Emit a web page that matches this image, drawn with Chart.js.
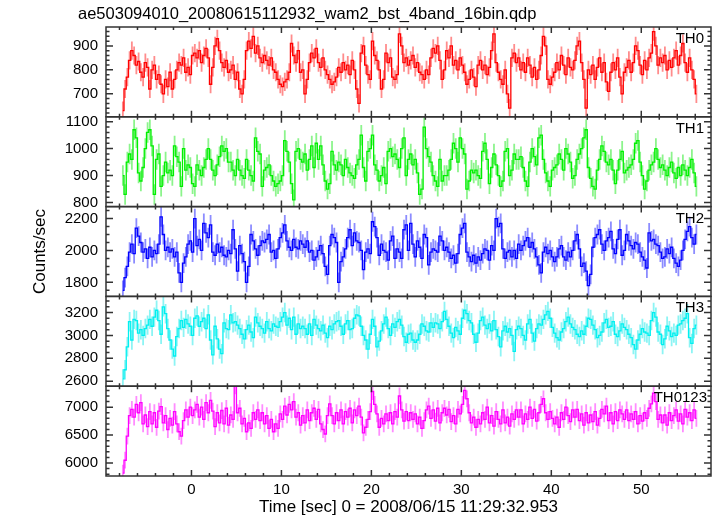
<!DOCTYPE html>
<html>
<head>
<meta charset="utf-8">
<script src="https://cdn.jsdelivr.net/npm/chart.js@4.4.1/dist/chart.umd.min.js"></script>
<style>
  body { margin: 0; background: #fff; }
  #wrap { width: 717px; height: 516px; }
</style>
</head>
<body>
<div id="wrap"><canvas id="lc" width="717" height="516"></canvas></div>
<script>
// 0.25 s bins, first bin centred at -7.625 s
const binStart = -7.625;
const binWidth = 0.25;

// TH0 counts/sec, 16 bins per row (4 s)
const th0 = [
    630, 720, 770, 840, 880, 860, 820, 835, 790, 770, 830, 810, 720, 800, 820, 760,
    780, 740, 700, 760, 730, 790, 720, 760, 800, 830, 820, 850, 790, 810, 780, 860,
    870, 850, 880, 830, 860, 890, 850, 740, 810, 900, 930, 880, 830, 810, 840, 790,
    800, 820, 760, 790, 720, 700, 760, 880, 920, 890, 940, 870, 900, 850, 830, 860,
    840, 820, 850, 800, 790, 760, 740, 730, 750, 760, 790, 910, 860, 830, 880, 790,
    800, 700, 760, 830, 870, 850, 890, 830, 810, 850, 800, 780, 760, 740, 750, 770,
    810, 790, 830, 800, 820, 780, 840, 800, 720, 660, 870, 900, 820, 780, 760, 920,
    860, 840, 800, 720, 760, 870, 830, 850, 770, 760, 780, 950, 900, 830, 850, 820,
    840, 860, 810, 830, 790, 780, 760, 800, 780, 850, 890, 870, 900, 840, 760, 800,
    880, 850, 900, 820, 840, 800, 850, 820, 790, 740, 760, 800, 770, 730, 820, 840,
    800, 820, 780, 810, 880, 950, 830, 790, 760, 740, 800, 700, 640, 850, 870, 830,
    850, 800, 830, 790, 850, 820, 770, 810, 760, 800, 860, 940, 900, 760, 740, 770,
    790, 830, 800, 860, 820, 780, 850, 810, 800, 840, 900, 920, 830, 760, 640, 800,
    780, 820, 760, 810, 850, 790, 830, 750, 710, 790, 830, 800, 850, 770, 700, 790,
    810, 840, 790, 830, 900, 880, 820, 780, 840, 800, 850, 870, 960, 900, 820, 850,
    830, 860, 800, 840, 810, 850, 880, 820, 860, 910, 830, 790, 850, 800, 760, 700
];

const th1 = [
    900, 830, 950, 980, 960, 1070, 1040, 910, 880, 930, 1000, 1060, 1070, 1010, 830, 960,
    980, 860, 900, 950, 910, 920, 900, 1010, 970, 950, 860, 1000, 920, 940, 930, 870,
    860, 940, 920, 900, 930, 960, 1000, 960, 920, 900, 940, 970, 1010, 990, 1000, 950,
    950, 920, 900, 960, 920, 900, 890, 960, 920, 900, 880, 1040, 990, 980, 860, 920,
    930, 940, 900, 880, 860, 870, 880, 900, 1030, 990, 950, 870, 810, 990, 1000, 960,
    950, 980, 920, 960, 1010, 930, 1020, 960, 1010, 940, 880, 850, 870, 990, 940, 920,
    950, 940, 900, 960, 930, 910, 900, 890, 940, 960, 1050, 930, 880, 990, 1000, 1050,
    940, 920, 880, 900, 930, 870, 990, 1000, 970, 980, 960, 930, 1000, 1040, 900, 960,
    980, 940, 960, 910, 830, 850, 1080, 1000, 970, 950, 900, 880, 860, 960, 880, 900,
    900, 920, 960, 1020, 1000, 950, 1040, 1000, 980, 850, 880, 920, 910, 920, 900, 890,
    990, 1020, 960, 870, 930, 980, 940, 900, 860, 880, 990, 1000, 900, 920, 980, 960,
    960, 970, 930, 880, 860, 950, 1000, 970, 940, 1040, 1050, 960, 910, 880, 860, 920,
    930, 940, 980, 960, 920, 1000, 980, 950, 890, 900, 960, 980, 1000, 1040, 1070, 930,
    890, 860, 850, 920, 960, 1010, 990, 950, 940, 960, 920, 870, 920, 960, 990, 910,
    920, 930, 940, 960, 1020, 1030, 950, 900, 850, 880, 920, 940, 950, 1000, 960, 930,
    940, 920, 900, 930, 950, 910, 890, 930, 900, 940, 920, 900, 930, 960, 910, 860
];

const th2 = [
    1750, 1830, 1900, 1990, 2040, 1980, 2140, 2090, 2050, 1990, 2010, 1950, 2020, 1960, 2000, 1980,
    2040, 2210, 2100, 2000, 2020, 1990, 2010, 1960, 1990, 1860, 1800, 1920, 1960, 2040, 2060, 1990,
    2200, 2030, 2070, 2000, 2170, 2110, 2080, 2160, 1990, 1970, 2040, 1990, 2020, 1970, 1960, 2000,
    1980, 2130, 2010, 1870, 2030, 1980, 1930, 1800, 1900, 2100, 2060, 2010, 1970, 2030, 2060, 2050,
    2070, 2100, 1990, 2000, 1950, 2010, 2080, 2110, 2160, 2060, 2020, 2000, 2070, 2020, 2010, 2060,
    2040, 2020, 2060, 1990, 2000, 1940, 1960, 2000, 2030, 1980, 1900, 1850, 2030, 2100, 2080, 2050,
    1800, 1930, 1960, 2010, 2080, 2130, 2030, 2110, 2060, 2050, 2000, 1880, 1990, 2010, 1980, 2180,
    2150, 2080, 1970, 2040, 2000, 1990, 1940, 2060, 2090, 1950, 2010, 1990, 1950, 2130, 2160, 2000,
    2170, 2040, 1960, 2060, 2020, 1950, 2100, 2080, 1910, 1990, 2010, 2000, 1990, 2090, 2060, 2000,
    2020, 1990, 1950, 1970, 1920, 1980, 2100, 2140, 2170, 1990, 1960, 1930, 1970, 1920, 1960, 1940,
    1980, 2010, 2000, 1940, 2030, 2000, 2200, 2150, 2170, 2010, 1950, 1990, 2000, 1960, 2000, 1950,
    2040, 2000, 2030, 2060, 2080, 2020, 2050, 2010, 1960, 1910, 1860, 1990, 2020, 1980, 2000, 1960,
    1930, 1960, 2010, 2030, 1960, 1940, 1990, 1960, 2000, 2060, 2100, 2010, 1900, 1920, 1870, 1780,
    1850, 2020, 2080, 2100, 2130, 2040, 2000, 2060, 2080, 2120, 2010, 1980, 2070, 2130, 1970, 2000,
    2100, 2060, 2030, 2010, 2050, 2040, 1990, 1960, 1940, 1890, 2110, 2060, 2070, 2040, 2030, 1990,
    1950, 1960, 2010, 1980, 2020, 1950, 1920, 1900, 1940, 2000, 2070, 2120, 2150, 2080, 2040, 2100
];

const th3 = [
    2620, 2700, 2900, 3120, 2960, 3140, 3130, 3020, 3050, 3000, 3060, 3090, 3140, 3080, 3160, 3220,
    3130, 3010, 3250, 3190, 3060, 2960, 2880, 2820, 2990, 3060, 3130, 3070, 3140, 3100, 3080, 3000,
    3150, 3170, 3080, 3120, 3150, 3060, 3180, 2960, 2830, 3080, 2970, 2880, 2840, 3110, 3060, 3050,
    3180, 3110, 3120, 3090, 3060, 3010, 2970, 3050, 3090, 3030, 2980, 3160, 3110, 3080, 3060, 3020,
    3120, 3060, 3040, 3100, 3080, 3070, 3120, 3160, 3200, 3090, 3150, 3050, 3160, 3010, 3100, 3060,
    3080, 3060, 3010, 3100, 3000, 3140, 3090, 3060, 3040, 3090, 3020, 2980, 3080, 3050, 3100, 3120,
    3130, 3080, 3010, 3100, 3130, 3050, 3060, 3150, 3180, 3170, 3080, 3000, 2960, 2880, 3010, 3140,
    3080, 2900, 2950, 3040, 3100, 3160, 3060, 3000, 3100, 3070, 3120, 3140, 3090, 2990, 2940, 3010,
    3020, 2960, 2940, 2960, 3010, 3100, 3080, 3040, 3030, 3110, 3070, 3110, 3100, 3060, 3120, 3210,
    3140, 3080, 3020, 2980, 3070, 3040, 3010, 3150, 3220, 3190, 3130, 3110, 3010, 2940, 3020, 3130,
    3160, 3090, 3060, 3100, 3040, 3130, 3050, 2990, 2900, 3040, 3080, 3030, 3060, 3000, 2860, 3050,
    3080, 3060, 3000, 2960, 3100, 3140, 3020, 2950, 3060, 3100, 3090, 3140, 3180, 3210, 3150, 3070,
    3020, 2980, 2960, 3030, 3060, 3120, 3160, 3100, 3070, 3050, 3010, 2990, 3040, 3010, 3080, 3150,
    3140, 3090, 3050, 2980, 3000, 3030, 3110, 3140, 3070, 3080, 3120, 3010, 2990, 3040, 3100, 3070,
    3050, 3010, 2980, 2920, 2880, 2960, 3010, 3060, 3030, 3020, 3000, 3130, 3200, 3160, 3030, 3010,
    2920, 2970, 3080, 3040, 2990, 3020, 3000, 3090, 3100, 3130, 3150, 3190, 2980, 2930, 3060, 3090
];

const th0123 = [
    5820, 6050, 6480, 6850, 6960, 6820, 7050, 6900, 7080, 6700, 6860, 6650, 6920, 6700, 6900, 6640,
    6930, 7010, 6720, 6850, 6600, 6800, 6680, 6920, 6700, 6560, 6480, 6760, 6950, 6820, 7000, 6850,
    6950, 7050, 6820, 7000, 6780, 7080, 6900, 7120, 6930, 6650, 6900, 6720, 6940, 6700, 6980, 6680,
    6860, 6780, 7380, 6900, 6980, 6700, 6800, 6560, 6720, 6620, 6900, 6780, 6950, 6760, 6900, 6700,
    6850, 6620, 6780, 6560, 6700, 6620, 6880, 6780, 7020, 6860, 7050, 6950, 7100, 6820, 6900, 6680,
    6850, 6720, 6950, 6760, 6900, 6980, 6780, 6960, 6700, 6600, 6520, 6850, 7060, 6850, 6700, 6900,
    6760, 6950, 6700, 6920, 6820, 6980, 6720, 6950, 6850, 7020, 6820, 6540, 6640, 6780, 6920, 7280,
    7050, 6880, 6640, 6800, 6700, 6880, 6760, 6900, 6700, 6920, 6820, 7200, 6950, 6750, 6920, 6760,
    6900, 6780, 6880, 6700, 6820, 6620, 6760, 6950, 7020, 6800, 6950, 6750, 6980, 6720, 6900, 6980,
    6860, 6960, 6740, 6850, 6700, 6960, 6880, 7050, 7300, 7150, 6900, 6720, 6820, 6640, 6780, 6700,
    6900, 6780, 7000, 6720, 6850, 6660, 6920, 6780, 6700, 6950, 6720, 6820, 6660, 6880, 6780, 6950,
    6820, 6950, 6700, 6880, 6780, 7000, 6800, 6960, 6750, 6900, 7050, 7150, 6900, 6780, 6920, 6800,
    6700, 6820, 6640, 6900, 6780, 7000, 6850, 6740, 6950, 6820, 6960, 6760, 6880, 6680, 6900, 6720,
    6860, 6740, 6920, 6680, 6800, 6960, 6880, 7020, 6760, 6900, 6700, 6920, 6760, 6950, 6880, 6780,
    6950, 6760, 6880, 6780, 6920, 6700, 6850, 6750, 6900, 6800, 6980, 7060, 7250, 7100, 6780, 6860,
    6720, 6860, 6680, 6900, 6760, 6850, 6950, 6750, 6880, 6700, 6960, 6820, 6900, 6760, 6950, 6800
];

const panelNames = ['TH0', 'TH1', 'TH2', 'TH3', 'TH0123'];
const panelErrors = [38, 38, 62, 85, 150];
const panelMin = [604, 785, 1712, 2556, 5768];
const panelMax = [979, 1118, 2275, 3341, 7375];
const panelTicks = [
    [700, 800, 900],
    [800, 900, 1000, 1100],
    [1800, 2000, 2200],
    [2600, 2800, 3000, 3200],
    [6000, 6500, 7000]
];
const panelMinorStep = [20, 20, 50, 50, 100];
const xMin = -9.5;
const xMax = 57.75;
const xTicks = [0, 10, 20, 30, 40, 50];
const xMinorStep = 2;

const titleText = 'ae503094010_20080615112932_wam2_bst_4band_16bin.qdp';
const xLabel = 'Time [sec] 0 = 2008/06/15 11:29:32.953';
const yLabel = 'Counts/sec';

const series = [th0, th1, th2, th3, th0123];
const times = th0.map((v, i) => binStart + i * binWidth);

const lineColors = ['#ff0000', '#00f000', '#0000ff', '#00f0f0', '#ff00ff'];
const barColors = ['rgba(255,0,0,0.45)', 'rgba(0,230,0,0.45)', 'rgba(0,0,255,0.45)',
                   'rgba(0,230,230,0.45)', 'rgba(255,0,255,0.45)'];
const fontFamily = "'Liberation Sans', Arial, Helvetica, sans-serif";

Chart.defaults.font.family = fontFamily;
Chart.defaults.color = '#000';

// Scales: one shared x, five y axes stacked into panels
const scales = {
    x: {
        type: 'linear',
        position: 'bottom',
        min: xMin,
        max: xMax,
        grid: { display: false, drawTicks: false },
        border: { display: false },
        afterBuildTicks: s => { s.ticks = xTicks.map(v => ({ value: v })); },
        afterFit: s => { s.height = 40; },
        ticks: { autoSkip: false, maxRotation: 0, padding: 5, font: { size: 15 }, callback: v => String(v) },
        title: { display: true, text: xLabel, font: { size: 17, lineHeight: 1 }, padding: { top: 0, bottom: 0 } }
    }
};
panelNames.forEach((name, i) => {
    scales['y' + i] = {
        type: 'linear',
        position: 'left',
        stack: 'panels',
        stackWeight: 1,
        weight: panelNames.length - i,
        min: panelMin[i],
        max: panelMax[i],
        grid: { display: false, drawTicks: false },
        border: { display: false },
        afterBuildTicks: s => { s.ticks = panelTicks[i].map(v => ({ value: v })); },
        afterFit: s => { s.width = 106; },
        ticks: { autoSkip: false, padding: 8, font: { size: 15 }, callback: v => String(v) },
        title: { display: i === 2, text: yLabel, font: { size: 17 }, padding: { top: 30, bottom: 0 } }
    };
});

// Error bars, panel frames, inward ticks and labels
const qdpPlugin = {
    id: 'qdp',
    beforeDatasetDraw(chart, args) {
        const i = args.index;
        const ctx = chart.ctx;
        const area = chart.chartArea;
        const xs = chart.scales.x;
        const ys = chart.scales['y' + i];
        ctx.save();
        ctx.beginPath();
        ctx.rect(area.left, ys.top, area.right - area.left, ys.bottom - ys.top);
        ctx.clip();
        ctx.strokeStyle = barColors[i];
        ctx.lineWidth = 1.8;
        ctx.beginPath();
        series[i].forEach((v, k) => {
            const px = xs.getPixelForValue(times[k]);
            ctx.moveTo(px, ys.getPixelForValue(v + panelErrors[i]));
            ctx.lineTo(px, ys.getPixelForValue(v - panelErrors[i]));
        });
        ctx.stroke();
    },
    afterDatasetDraw(chart) {
        chart.ctx.restore();
    },
    afterDraw(chart) {
        const ctx = chart.ctx;
        const area = chart.chartArea;
        const xs = chart.scales.x;
        ctx.save();
        ctx.strokeStyle = '#333';
        ctx.lineWidth = 1.5;
        panelNames.forEach((name, i) => {
            const ys = chart.scales['y' + i];
            const top = ys.top;
            const bot = ys.bottom;
            ctx.strokeRect(area.left, top, area.right - area.left, bot - top);
            ctx.beginPath();
            for (let v = Math.ceil(xMin / xMinorStep) * xMinorStep; v <= xMax; v += xMinorStep) {
                const px = xs.getPixelForValue(v);
                const len = xTicks.includes(v) ? 6 : 3;
                ctx.moveTo(px, top); ctx.lineTo(px, top + len);
                ctx.moveTo(px, bot); ctx.lineTo(px, bot - len);
            }
            const step = panelMinorStep[i];
            for (let v = Math.ceil(panelMin[i] / step) * step; v <= panelMax[i]; v += step) {
                const py = ys.getPixelForValue(v);
                const len = panelTicks[i].includes(v) ? 7 : 3.5;
                ctx.moveTo(area.left, py); ctx.lineTo(area.left + len, py);
                ctx.moveTo(area.right, py); ctx.lineTo(area.right - len, py);
            }
            ctx.stroke();

            ctx.fillStyle = '#000';
            ctx.font = '15px ' + fontFamily;
            ctx.textAlign = 'right';
            ctx.textBaseline = 'alphabetic';
            ctx.fillText(name, i === 4 ? area.right - 4 : area.right - 7, top + 16);
        });
        ctx.font = '16.5px ' + fontFamily;
        ctx.textAlign = 'left';
        ctx.fillText(titleText, 78, 19);
        ctx.restore();
    }
};

new Chart(document.getElementById('lc'), {
    type: 'line',
    data: {
        datasets: series.map((vals, i) => ({
            label: panelNames[i],
            data: vals.map((v, k) => ({ x: times[k], y: v })),
            yAxisID: 'y' + i,
            borderColor: lineColors[i],
            borderWidth: 1.3,
            pointRadius: 0,
            stepped: 'middle',
            fill: false
        }))
    },
    options: {
        responsive: false,
        animation: false,
        events: [],
        layout: { padding: { left: 0, right: 6, top: 27, bottom: 0 } },
        scales: scales,
        plugins: {
            legend: { display: false },
            tooltip: { enabled: false }
        }
    },
    plugins: [qdpPlugin]
});
</script>
</body>
</html>
